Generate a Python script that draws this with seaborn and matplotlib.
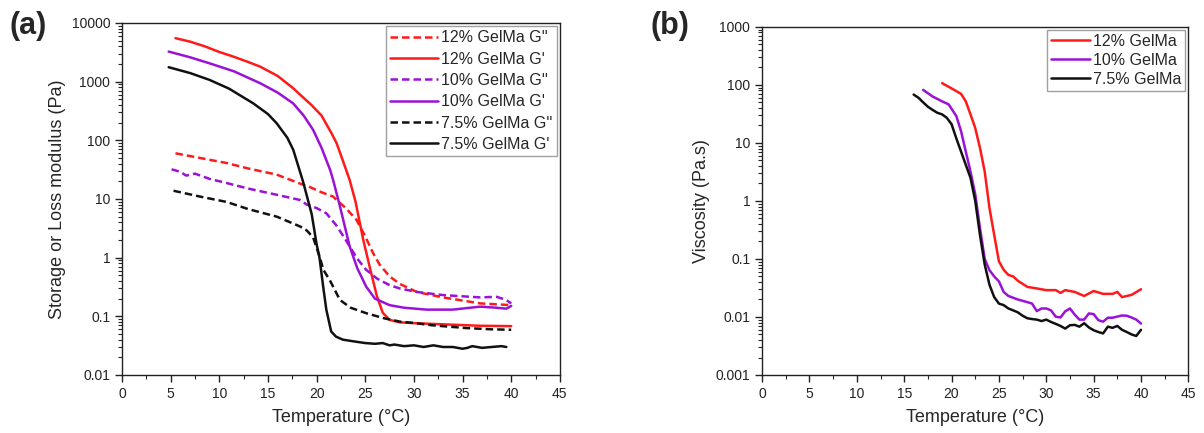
import matplotlib
matplotlib.use("Agg")
import matplotlib.pyplot as plt
import matplotlib.ticker as mticker
import numpy as np
import pandas as pd
import seaborn as sns

# panel (a): storage (G') and loss (G'') modulus vs temperature
t12_gp = [5.5, 7, 8.5, 10, 11.5, 13, 14.2, 16, 17.6, 18.5, 19.5, 20.5, 21.5, 22.06, 22.7, 23.4, 24, 24.8, 25.5, 26.2, 26.8, 27.5, 28.5, 30.3, 33, 36.8, 40]
g12_gp = [5500, 4800, 4000, 3200, 2650, 2150, 1800, 1250, 770, 560, 395, 265, 135, 89, 45, 21, 9, 2.0, 0.65, 0.22, 0.115, 0.087, 0.079, 0.076, 0.073, 0.069, 0.068]
t12_gpp = [5.5, 8, 10.75, 13, 15.9, 18.6, 19.3, 20.5, 21.7, 22.06, 23, 24.1, 25, 25.8, 26.5, 27.5, 28.5, 30.3, 33, 36.8, 40]
g12_gpp = [60, 50, 41, 33, 26, 17.5, 16, 13, 11, 9.6, 7, 4.4, 2.3, 1.2, 0.75, 0.48, 0.36, 0.26, 0.21, 0.166, 0.155]

t10_gp = [4.8, 7, 9, 11.5, 14.2, 16, 17.6, 18.7, 19.65, 20.5, 21.4, 21.7, 22.4, 23.4, 24.2, 25.1, 26, 27.5, 29, 31.3, 34, 36.8, 38.5, 39.5, 40]
g10_gp = [3250, 2600, 2050, 1500, 940, 650, 425, 260, 150, 75, 31, 21, 7.5, 1.55, 0.65, 0.32, 0.2, 0.155, 0.14, 0.13, 0.13, 0.146, 0.14, 0.135, 0.15]
t10_gpp = [5.1, 6, 6.6, 7.5, 9, 10.75, 13, 15.9, 18.3, 19, 20, 21, 22, 23, 23.4, 24.2, 25.1, 26.2, 27.5, 28.5, 30.3, 33, 36.8, 38.5, 39.5, 40]
g10_gpp = [32, 29, 25, 27, 22, 18.7, 15, 11.8, 9.6, 8, 7, 5.7, 3.6, 2.0, 1.55, 0.95, 0.62, 0.44, 0.34, 0.3, 0.26, 0.23, 0.21, 0.215, 0.19, 0.165]

t75_gp = [4.8, 7, 9, 11, 13.5, 15, 15.9, 17, 17.6, 18.6, 19.5, 20, 20.3, 20.7, 21, 21.5, 22, 22.7, 24, 25, 26, 26.8, 27.5, 28, 29, 30, 31, 32, 33, 34, 35, 35.5, 36, 37, 38, 39, 39.5]
g75_gp = [1760, 1400, 1070, 760, 425, 280, 195, 110, 69, 20, 5.5, 1.7, 1.0, 0.3, 0.13, 0.055, 0.045, 0.04, 0.037, 0.035, 0.034, 0.035, 0.032, 0.033, 0.031, 0.032, 0.030, 0.032, 0.030, 0.030, 0.028, 0.029, 0.031, 0.029, 0.030, 0.031, 0.030]
t75_gpp = [5.3, 8, 10.75, 13, 15.9, 18.3, 19, 19.65, 20.3, 20.7, 21.4, 22.4, 23.5, 25.1, 27, 28.6, 30, 32, 35.4, 38, 40]
g75_gpp = [13.8, 11, 8.9, 6.7, 5.0, 3.4, 2.9, 2.2, 1.05, 0.62, 0.4, 0.19, 0.14, 0.113, 0.092, 0.081, 0.077, 0.07, 0.063, 0.06, 0.059]

# panel (b): viscosity vs temperature
t12_visc = [19, 20, 21, 21.5, 22, 22.5, 23, 23.5, 24, 24.5, 25, 25.5, 26, 26.5, 27, 28, 29, 30, 31, 31.5, 32, 33, 34, 35, 36, 37, 37.5, 38, 39, 40]
v12 = [107, 87, 70, 52, 31, 18, 8.2, 3.2, 0.76, 0.26, 0.091, 0.065, 0.053, 0.05, 0.042, 0.033, 0.031, 0.029, 0.029, 0.026, 0.029, 0.027, 0.023, 0.028, 0.025, 0.025, 0.027, 0.022, 0.024, 0.03]
t10_visc = [17, 18, 19, 19.7, 20.5, 21, 21.5, 22, 22.5, 23, 23.5, 24, 24.5, 25, 25.5, 26, 27, 28, 28.5, 29, 29.5, 30, 30.5, 31, 31.5, 32, 32.5, 33, 33.5, 34, 34.5, 35, 35.5, 36, 36.5, 37, 38, 38.5, 39, 39.5, 40]
v10 = [82, 63, 52, 46, 29, 16, 7.1, 3.2, 1.3, 0.34, 0.10, 0.064, 0.05, 0.041, 0.027, 0.023, 0.02, 0.018, 0.017, 0.0126, 0.014, 0.014, 0.013, 0.0101, 0.0098, 0.0125, 0.014, 0.011, 0.009, 0.009, 0.0115, 0.0112, 0.0088, 0.0083, 0.0097, 0.0097, 0.0106, 0.0105, 0.0098, 0.009, 0.0077]
t75_visc = [16, 16.5, 17, 17.5, 18, 18.5, 19, 19.5, 20, 20.5, 21, 21.5, 22, 22.5, 23, 23.5, 24, 24.5, 25, 25.5, 26, 26.5, 27, 27.5, 28, 28.5, 29, 29.5, 30, 30.5, 31, 31.5, 32, 32.5, 33, 33.5, 34, 34.5, 35, 35.5, 36, 36.5, 37, 37.5, 38, 38.5, 39, 39.5, 40]
v75 = [68, 60, 50, 42, 37, 33, 31, 27, 21, 12, 7.1, 4.2, 2.5, 1.0, 0.26, 0.08, 0.036, 0.022, 0.017, 0.016, 0.014, 0.013, 0.012, 0.0105, 0.0095, 0.0092, 0.009, 0.0085, 0.009, 0.0082, 0.0076, 0.007, 0.0063, 0.0072, 0.0073, 0.0068, 0.0078, 0.0066, 0.0059, 0.0055, 0.0052, 0.0068, 0.0065, 0.007, 0.006, 0.0055, 0.005, 0.0047, 0.006]

RED = "#ff1a1a"
PURPLE = "#9a12d6"
BLACK = "#111111"

sns.set_style("ticks")
plt.rcParams["font.family"] = ["Liberation Sans", "DejaVu Sans"]

fig = plt.figure(figsize=(12.04, 4.33), dpi=100)
ax1 = fig.add_axes([0.1013, 0.134, 0.3637, 0.813])
ax2 = fig.add_axes([0.633, 0.134, 0.354, 0.804])

series_a = [
    ("12% GelMa G''", t12_gpp, g12_gpp, RED, True),
    ("12% GelMa G'", t12_gp, g12_gp, RED, False),
    ("10% GelMa G''", t10_gpp, g10_gpp, PURPLE, True),
    ("10% GelMa G'", t10_gp, g10_gp, PURPLE, False),
    ("7.5% GelMa G''", t75_gpp, g75_gpp, BLACK, True),
    ("7.5% GelMa G'", t75_gp, g75_gp, BLACK, False),
]
for name, t, g, col, dashed in series_a:
    d = pd.DataFrame({"T": t, "G": g})
    sns.lineplot(data=d, x="T", y="G", ax=ax1, color=col, lw=1.8, label=name,
                 linestyle=(0, (3, 1.6)) if dashed else "-")

series_b = [
    ("12% GelMa", t12_visc, v12, RED),
    ("10% GelMa", t10_visc, v10, PURPLE),
    ("7.5% GelMa", t75_visc, v75, BLACK),
]
for name, t, v, col in series_b:
    d = pd.DataFrame({"T": t, "V": v})
    sns.lineplot(data=d, x="T", y="V", ax=ax2, color=col, lw=1.8, label=name)

for ax, ylo, yhi, ylab, hl, ls in [(ax1, 0.01, 10000, "Storage or Loss modulus (Pa)", 3.0, 0.4),
                                    (ax2, 0.001, 1000, "Viscosity (Pa.s)", 2.4, 0.25)]:
    ax.set_yscale("log")
    ax.set_ylim(ylo, yhi)
    ax.set_xlim(0, 45)
    ax.set_xticks(range(0, 46, 5))
    ax.xaxis.set_minor_locator(mticker.MultipleLocator(2.5))
    ax.yaxis.set_major_formatter(mticker.FuncFormatter(lambda v, p: f"{v:g}"))
    ax.yaxis.set_minor_locator(mticker.LogLocator(base=10, subs=np.arange(2, 10)))
    ax.yaxis.set_minor_formatter(mticker.NullFormatter())
    ax.tick_params(which="major", direction="out", length=5, width=1, labelsize=10, colors="#222222")
    ax.tick_params(which="minor", direction="out", length=3, width=0.8)
    for s in ax.spines.values():
        s.set_visible(True)
        s.set_linewidth(1.0)
        s.set_color("#222222")
    ax.set_xlabel("Temperature (°C)", fontsize=13, labelpad=6)
    ax.set_ylabel(ylab, fontsize=13, labelpad=4)
    leg = ax.legend(loc="upper right", fontsize=11.5, frameon=True, fancybox=False,
                    handlelength=hl, handletextpad=0.2, labelspacing=ls,
                    borderpad=0.25, borderaxespad=0.2)
    leg.get_frame().set_edgecolor("#888888")
    leg.get_frame().set_linewidth(1.0)

fig.text(0.008, 0.975, "(a)", fontsize=22, fontweight="bold", va="top")
fig.text(0.540, 0.975, "(b)", fontsize=22, fontweight="bold", va="top")

fig.savefig("out.png", dpi=100)
